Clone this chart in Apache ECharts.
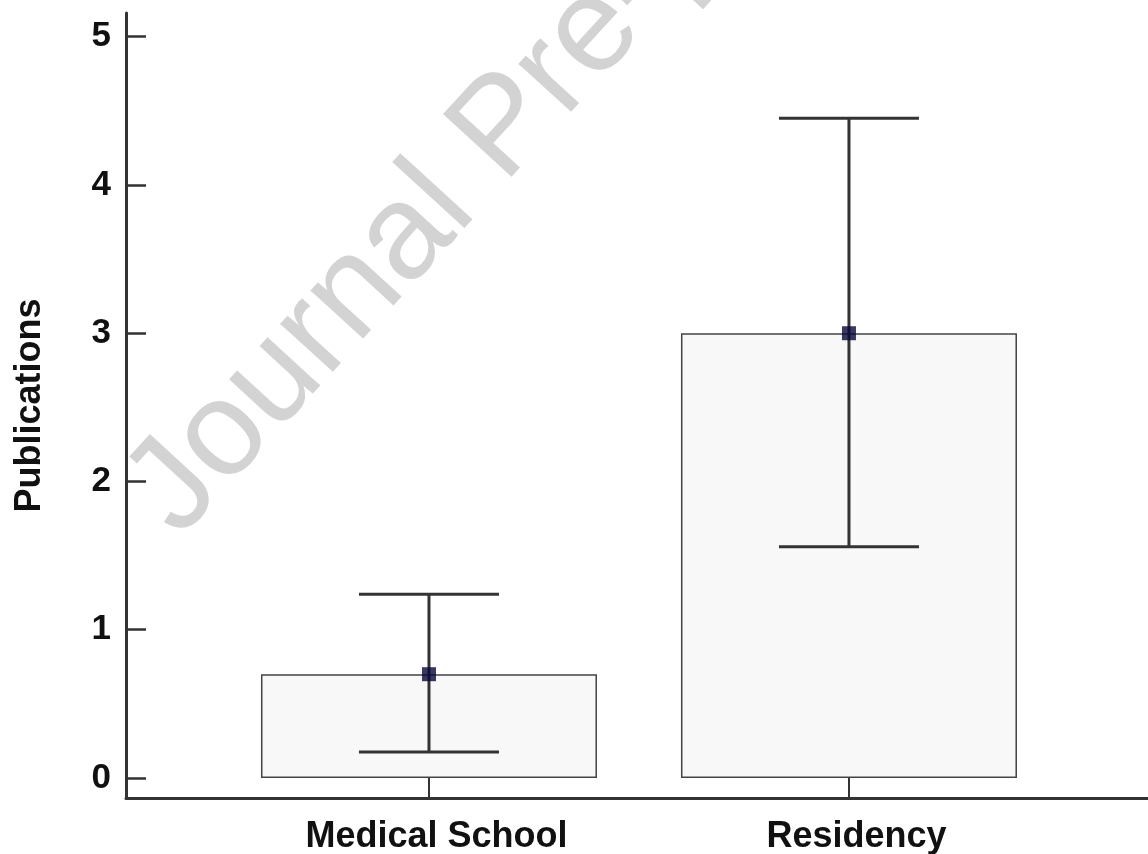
<!DOCTYPE html>
<html>
<head>
<meta charset="utf-8">
<script src="https://cdn.jsdelivr.net/npm/echarts@6/dist/echarts.min.js"></script>
<style>
html,body{margin:0;padding:0;background:#fff;}
#chart{width:1148px;height:854px;}
</style>
</head>
<body>
<div id="chart"></div>
<script>
// ---- data ----
const categories = ['Medical School', 'Residency'];
const categoryPos = [1, 2];
const meanValues = [0.70, 3.00];
const errLow = [0.175, 1.56];
const errHigh = [1.24, 4.45];
const yTicks = [0, 1, 2, 3, 4, 5];
const yAxisTitle = 'Publications';
const watermarkText = 'Journal Pre-proof';

const FONT = '"Liberation Sans", Arial, Helvetica, sans-serif';
const chart = echarts.init(document.getElementById('chart'), null, {renderer: 'canvas'});

const barData = categoryPos.map((x, i) => [x, meanValues[i]]);
const errData = categoryPos.map((x, i) => [x, errLow[i], errHigh[i]]);

const theta = 47.5 * Math.PI / 180;

chart.setOption({
  animation: false,
  backgroundColor: '#ffffff',
  graphic: [{
    type: 'text',
    z: -10,
    silent: true,
    x: 152,
    y: 514,
    rotation: theta,
    style: {
      text: watermarkText,
      font: 'normal 135px ' + FONT,
      fill: '#d3d3d3',
      textAlign: 'left',
      textVerticalAlign: 'middle'
    }
  }],
  grid: {left: 126, top: 13, right: 0, bottom: 56, containLabel: false, outerBoundsMode: 'none'},
  xAxis: {
    type: 'value',
    min: 0.2786,
    max: 2.712,
    splitLine: {show: false},
    axisLine: {show: true, onZero: false, lineStyle: {color: '#333', width: 3}},
    axisTick: {show: true, inside: true, length: 20, customValues: categoryPos, lineStyle: {color: '#333', width: 2}},
    axisLabel: {
      customValues: categoryPos,
      formatter: v => categories[categoryPos.indexOf(Math.round(v))] || '',
      color: '#111', fontFamily: FONT, fontWeight: 'bold', fontSize: 36, margin: 21,
      padding: [0, 0, 0, 15]
    }
  },
  yAxis: {
    type: 'value',
    min: -0.135,
    max: 5.16,
    name: yAxisTitle,
    nameLocation: 'middle',
    nameGap: 78,
    nameTextStyle: {color: '#111', fontFamily: FONT, fontWeight: 'bold', fontSize: 36},
    splitLine: {show: false},
    axisLine: {show: true, onZero: false, lineStyle: {color: '#333', width: 3}},
    axisTick: {show: true, inside: true, length: 20, customValues: yTicks, lineStyle: {color: '#333', width: 2.5}},
    axisLabel: {
      customValues: yTicks,
      color: '#111', fontFamily: FONT, fontWeight: 'bold', fontSize: 35, margin: 15
    }
  },
  series: [
    {
      type: 'bar',
      data: barData,
      barWidth: 336,
      z: 2,
      itemStyle: {color: '#f8f8f8', borderColor: '#444', borderWidth: 1.5}
    },
    {
      type: 'custom',
      z: 3,
      data: errData,
      renderItem: function (params, api) {
        const x = api.value(0);
        const lo = api.coord([x, api.value(1)]);
        const hi = api.coord([x, api.value(2)]);
        const hw = 70;
        const style = {stroke: '#333', lineWidth: 3};
        return {
          type: 'group',
          children: [
            {type: 'line', shape: {x1: lo[0], y1: lo[1], x2: hi[0], y2: hi[1]}, style: style},
            {type: 'line', shape: {x1: lo[0] - hw, y1: lo[1], x2: lo[0] + hw, y2: lo[1]}, style: style},
            {type: 'line', shape: {x1: hi[0] - hw, y1: hi[1], x2: hi[0] + hw, y2: hi[1]}, style: style}
          ]
        };
      }
    },
    {
      type: 'scatter',
      z: 4,
      data: barData,
      symbol: 'rect',
      symbolSize: 14,
      itemStyle: {color: '#06063a'}
    }
  ]
});
</script>
</body>
</html>
